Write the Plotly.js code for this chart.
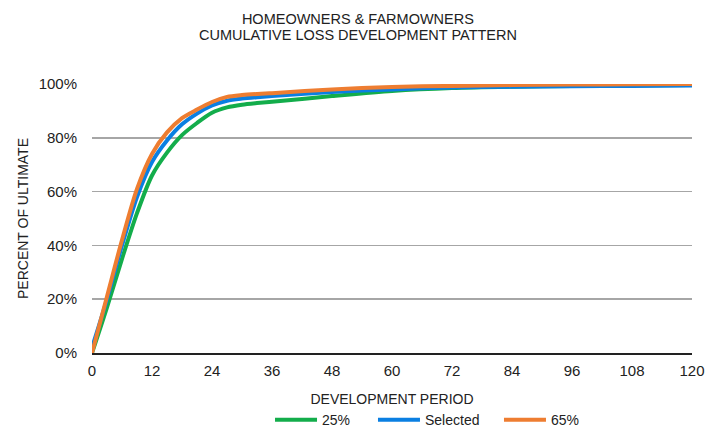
<!DOCTYPE html>
<html>
<head>
<meta charset="utf-8">
<script src="https://cdn.plot.ly/plotly-3.0.1.min.js"></script>
<style>html,body{margin:0;padding:0;background:#fff}#chart{width:723px;height:430px}</style>
</head>
<body>
<div id="chart"></div>
<script>
const months = [0,3,6,9,12,15,18,21,24,27,30,33,36,48,60,72,84,96,108,120];
const p25 = [0.000,0.170,0.350,0.520,0.660,0.745,0.810,0.855,0.893,0.913,0.923,0.929,0.934,0.955,0.974,0.985,0.990,0.993,0.995,0.996];
const selected = [0.020,0.200,0.400,0.580,0.710,0.790,0.850,0.890,0.920,0.938,0.946,0.951,0.955,0.970,0.980,0.987,0.990,0.992,0.993,0.994];
const p65 = [0.000,0.210,0.420,0.610,0.740,0.820,0.873,0.905,0.933,0.952,0.959,0.963,0.966,0.980,0.989,0.993,0.996,0.998,0.999,1.000];
const seriesNames = ['25%','Selected','65%'];
const seriesColors = ['#13ad4b','#0a7fe2','#ee7d31'];
const xTicks = [0,12,24,36,48,60,72,84,96,108,120];
const yTicks = [0,0.2,0.4,0.6,0.8,1.0];
const titleLines = ['HOMEOWNERS & FARMOWNERS','CUMULATIVE LOSS DEVELOPMENT PATTERN'];

const font = 'Liberation Sans, Arial, sans-serif';
const legendKeys = ['legend','legend2','legend3'];
const legendX = [0.2967, 0.4683, 0.6783];
const data = [p25, selected, p65].map((v,i)=>({
  x: months, y: v, type:'scatter', mode:'lines', name: seriesNames[i],
  legend: legendKeys[i],
  line:{color: seriesColors[i], width:4, shape:'spline', smoothing:0.8},
  hoverinfo:'skip'
}));

const layout = {
  width:723, height:430,
  margin:{l:92, r:31, t:84, b:77, autoexpand:false},
  paper_bgcolor:'#fff', plot_bgcolor:'#fff',
  font:{family:font, size:14, color:'#222'},
  title:{text:titleLines[0], x:0.495, xanchor:'center', yref:'container', y:1-19/430, yanchor:'middle',
    font:{family:font, size:14.5, color:'#222'}},
  annotations:[{text:titleLines[1], xref:'paper', yref:'paper', x:(358-92)/600, y:1+(84-35)/269,
    xanchor:'center', yanchor:'middle', showarrow:false, font:{family:font, size:14.5, color:'#222'}}],
  xaxis:{range:[0,120], tickvals:xTicks, ticktext:xTicks.map(String), showgrid:false, zeroline:false, automargin:false,
    showline:true, linecolor:'#222', linewidth:1.5, ticks:'', tickfont:{size:15, color:'#222'}, ticklabelstandoff:3,
    title:{text:'DEVELOPMENT PERIOD', font:{size:14, color:'#222'}, standoff:16}},
  yaxis:{range:[0,1.0], tickvals:yTicks, tickformat:'.0%', showgrid:true, gridcolor:'#a6a6a6', gridwidth:1.5, automargin:false,
    zeroline:false, showline:false, ticks:'', tickfont:{size:15, color:'#222'}, ticklabelstandoff:14,
    title:{text:'PERCENT OF ULTIMATE', font:{size:14, color:'#222'}, standoff:6}},
  showlegend:true
};
legendKeys.forEach((k,i)=>{
  layout[k] = {orientation:'h', x:legendX[i], xanchor:'left', y:-0.19, yanchor:'top', itemwidth:42,
    font:{size:14, color:'#222'}, bgcolor:'rgba(0,0,0,0)'};
});
Plotly.newPlot('chart', data, layout, {displayModeBar:false, staticPlot:true});
</script>
</body>
</html>
